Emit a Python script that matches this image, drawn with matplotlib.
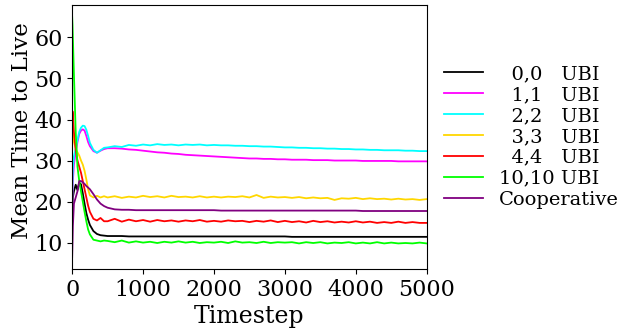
import matplotlib
matplotlib.use("Agg")
import matplotlib.pyplot as plt

plt.rcParams['font.family'] = ['DejaVu Serif']

t_early = [0, 5, 10, 25, 50, 75, 100, 125, 150, 175, 200, 225, 250, 300, 350, 400, 450]
t_late = list(range(500, 5001, 100))
timesteps = t_early + t_late

labels = ["  0,0   UBI", "  1,1   UBI", "  2,2   UBI", "  3,3   UBI",
          "  4,4   UBI", "10,10 UBI", "Cooperative"]
colors = ["black", "magenta", "cyan", "gold", "red", "lime", "purple"]

ubi_0 = [15, 19, 21, 22.5, 24.1, 22.8, 24.6, 24.2, 22, 19.5, 17.2, 15.6, 14.3, 12.8, 12.1, 11.8, 11.7,
         11.6, 11.6, 11.6, 11.5, 11.5, 11.5,
         11.5, 11.5, 11.5, 11.5, 11.5, 11.5, 11.5, 11.5, 11.5, 11.5,
         11.5, 11.5, 11.5, 11.5, 11.5, 11.5, 11.5, 11.5, 11.5, 11.5,
         11.4, 11.4, 11.4, 11.4, 11.4, 11.4, 11.4, 11.4, 11.4, 11.4,
         11.4, 11.4, 11.4, 11.4, 11.4, 11.4, 11.4, 11.4, 11.4, 11.4]

ubi_1 = [18, 22, 25, 29, 32, 34.5, 36.5, 37.3, 37.6, 37.3, 36, 34.5, 33.5, 32.3, 31.9, 32.4, 32.8,
         33.0, 33.0, 32.9, 32.7, 32.6, 32.4,
         32.2, 32.0, 31.9, 31.7, 31.6, 31.4, 31.3, 31.2, 31.1, 31.0,
         30.9, 30.8, 30.7, 30.6, 30.5, 30.5, 30.4, 30.4, 30.3, 30.3,
         30.2, 30.2, 30.2, 30.1, 30.1, 30.1, 30.0, 30.0, 30.0, 30.0,
         29.9, 29.9, 29.9, 29.9, 29.9, 29.8, 29.8, 29.8, 29.8, 29.8]

ubi_2 = [20, 25, 28, 31, 33, 35, 37, 38, 38.5, 38.4, 37.5, 36, 34.3, 32.6, 31.9, 32.5, 33.1,
         33.2, 33.5, 33.3, 33.8, 33.6, 33.9,
         33.7, 34.0, 33.8, 33.9, 33.7, 33.9, 33.8, 33.9, 33.7, 33.8,
         33.7, 33.7, 33.6, 33.6, 33.5, 33.5, 33.4, 33.4, 33.3, 33.2,
         33.2, 33.1, 33.1, 33.0, 33.0, 32.9, 32.9, 32.8, 32.8, 32.7,
         32.7, 32.6, 32.6, 32.5, 32.5, 32.5, 32.4, 32.4, 32.3, 32.3]

ubi_3 = [35, 37, 36, 34.5, 33, 32, 31.2, 30, 29, 27.5, 25.4, 23, 21.5, 21.0, 21.4, 21.0, 21.3,
         21.0, 21.3, 20.9, 21.2, 21.0, 21.4,
         21.1, 21.3, 21.0, 21.4, 21.1, 21.2, 21.0, 21.3, 21.0, 21.2,
         21.0, 21.2, 21.1, 21.3, 21.0, 21.6, 20.9, 21.2, 21.0, 21.1,
         20.9, 21.1, 20.8, 21.0, 20.8, 20.9, 20.4, 20.8, 20.7, 20.9,
         20.6, 20.8, 20.6, 20.7, 20.5, 20.7, 20.5, 20.6, 20.4, 20.6]

ubi_4 = [38, 42, 41, 37, 32.5, 30, 28.5, 27, 25, 23, 21, 19, 17.5, 15.8, 15.4, 16.0, 15.2,
         15.2, 15.8, 15.1, 15.6, 15.2, 15.5,
         15.1, 15.5, 15.2, 15.4, 15.1, 15.4, 15.2, 15.5, 15.1, 15.3,
         15.1, 15.4, 15.2, 15.3, 15.0, 15.3, 15.1, 15.4, 15.0, 15.3,
         15.0, 15.2, 14.9, 15.3, 15.0, 15.2, 14.9, 15.1, 14.9, 15.2,
         14.9, 15.1, 14.8, 15.0, 14.8, 15.1, 14.8, 15.0, 14.8, 14.8]

ubi_10 = [65, 63, 60, 51, 37, 28.5, 25, 22.5, 20, 17.5, 15.2, 13.2, 12, 10.7, 10.5, 10.3, 10.5,
          10.4, 10.1, 10.5, 10.0, 10.3, 10.0,
          10.2, 9.9, 10.2, 10.0, 10.3, 10.0, 10.2, 9.9, 10.1, 10.0,
          10.2, 9.9, 10.3, 10.0, 10.1, 9.9, 10.2, 9.9, 10.1, 10.0,
          10.1, 9.8, 10.1, 9.9, 10.1, 9.8, 10.0, 9.9, 10.1, 9.8,
          10.0, 9.8, 10.1, 9.8, 10.0, 9.8, 9.9, 9.8, 10.0, 9.8]

cooperative = [6.5, 10, 14, 19.5, 21, 22.5, 25, 25, 24.7, 24.3, 23.8, 23.4, 23, 21.8, 20.5, 19.5, 18.9,
               18.5, 18.1, 18.0, 18.0, 17.9, 17.9,
               17.9, 17.9, 17.9, 17.9, 17.9, 17.9, 17.9, 17.9, 17.9, 17.9,
               17.8, 17.8, 17.8, 17.8, 17.8, 17.8, 17.8, 17.8, 17.8, 17.8,
               17.8, 17.8, 17.8, 17.8, 17.8, 17.8, 17.8, 17.8, 17.8, 17.8,
               17.7, 17.7, 17.7, 17.7, 17.7, 17.7, 17.7, 17.7, 17.7, 17.7]

series = [ubi_0, ubi_1, ubi_2, ubi_3, ubi_4, ubi_10, cooperative]

fig = plt.figure(figsize=(6.22, 3.28), dpi=100)
ax = fig.add_axes([0.116, 0.18, 0.570, 0.805])

for ys, lab, c in zip(series, labels, colors):
    ax.plot(timesteps, ys, color=c, label=lab, linewidth=1.3)

ax.set_xlim(0, 5000)
ax.set_xticks([0, 1000, 2000, 3000, 4000, 5000])
ax.set_yticks([10, 20, 30, 40, 50, 60])
ax.tick_params(labelsize=16)
ax.set_xlabel("Timestep", fontsize=17, labelpad=3)
ax.set_ylabel("Mean Time to Live", fontsize=16.5)
ax.yaxis.set_label_coords(-0.11, 0.525)

ax.legend(loc="center left", bbox_to_anchor=(1.0, 0.5), frameon=False,
          fontsize=14, labelspacing=0.15, handlelength=2.0, borderaxespad=0.5)

fig.savefig("out.png", dpi=100)
